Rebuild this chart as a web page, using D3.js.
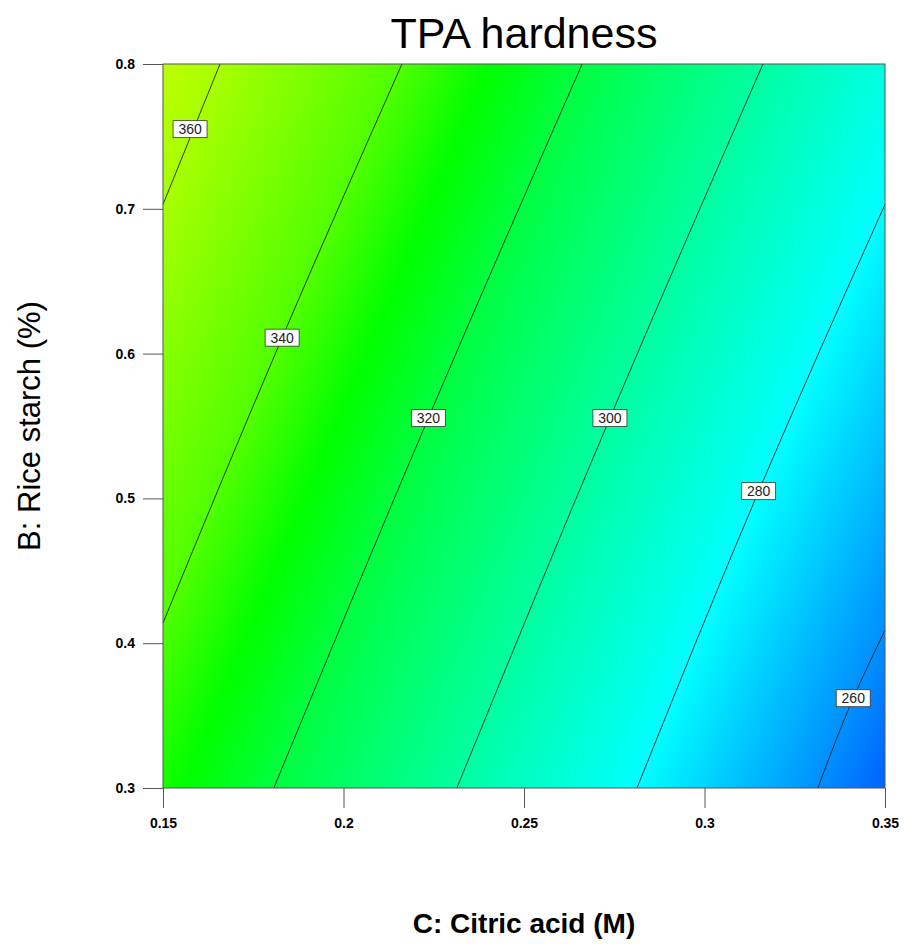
<!DOCTYPE html>
<html>
<head>
<meta charset="utf-8">
<script src="https://cdn.jsdelivr.net/npm/d3@7"></script>
<style>
  body { margin: 0; background: #fff; }
  svg text { font-family: Arial, "Liberation Sans", sans-serif; }
</style>
</head>
<body>
<div id="svg_div"><svg width="904" height="944"></svg></div>
<script>
// Grid of TPA hardness values
var xVals = [0.15, 0.20, 0.25, 0.30, 0.35];          // C: Citric acid (M)
var yVals = [0.3, 0.4, 0.5, 0.6, 0.7, 0.8];           // B: Rice starch (%)
var hardness = [                                      // rows = yVals, cols = xVals
    [332.3, 312.3, 292.3, 272.3, 252.3],
    [339.1, 319.1, 299.1, 279.1, 259.1],
    [345.9, 325.9, 305.9, 285.9, 265.9],
    [352.7, 332.7, 312.7, 292.7, 272.7],
    [359.5, 339.5, 319.5, 299.5, 279.5],
    [366.3, 346.3, 326.3, 306.3, 286.3]
];

// Contour lines [citric acid, rice starch]
var contourLevels = [360, 340, 320, 300, 280, 260];
var contourPaths = [
    [[0.15, 0.703], [0.1658, 0.8]],
    [[0.15, 0.414], [0.183, 0.611], [0.2162, 0.8]],
    [[0.1807, 0.3], [0.2235, 0.5555], [0.2661, 0.8]],
    [[0.2314, 0.3], [0.2738, 0.5555], [0.3162, 0.8]],
    [[0.2813, 0.3], [0.3150, 0.505], [0.35, 0.703]],
    [[0.3314, 0.3], [0.3412, 0.362], [0.35, 0.409]]
];
var labelPoints = [
    [0.1575, 0.755], [0.183, 0.611], [0.2235, 0.5555],
    [0.2738, 0.5555], [0.3150, 0.505], [0.3412, 0.362]
];

var xTicks = [0.15, 0.2, 0.25, 0.3, 0.35];
var yTicks = [0.3, 0.4, 0.5, 0.6, 0.7, 0.8];

var colorStops = [252, 260, 280, 300, 320, 330, 340, 360, 370];
var colorRange = ["#0060ff", "#0090ff", "#00ffff", "#00ffa0", "#00ff40",
                  "#00ff00", "#50ff00", "#a8ff00", "#c8ff00"];

var svg = d3.select("#svg_div").select("svg");
var margin = {top: 64, left: 163, bottom: 156, right: 19};
var width = +svg.attr("width") - margin.left - margin.right;
var height = +svg.attr("height") - margin.top - margin.bottom;

var xScale = d3.scaleLinear().domain([0.15, 0.35]).range([0, width]);
var yScale = d3.scaleLinear().domain([0.3, 0.8]).range([height, 0]);
var colorScale = d3.scaleLinear().domain(colorStops).range(colorRange).clamp(true);

var g = svg.append("g").attr("transform", "translate(" + [margin.left, margin.top] + ")");

// Fill raster: bilinear look-up in the read grid
function valueAt(cx, cy) {
    var fx = (cx - xVals[0]) / (xVals[1] - xVals[0]);
    var fy = (cy - yVals[0]) / (yVals[1] - yVals[0]);
    var i = Math.max(0, Math.min(xVals.length - 2, Math.floor(fx)));
    var j = Math.max(0, Math.min(yVals.length - 2, Math.floor(fy)));
    var tx = fx - i, ty = fy - j;
    var a = hardness[j][i], b = hardness[j][i + 1];
    var c = hardness[j + 1][i], d = hardness[j + 1][i + 1];
    return (a * (1 - tx) + b * tx) * (1 - ty) + (c * (1 - tx) + d * tx) * ty;
}

var canvas = document.createElement("canvas");
canvas.width = Math.round(width);
canvas.height = Math.round(height);
var ctx = canvas.getContext("2d");
var img = ctx.createImageData(canvas.width, canvas.height);
for (var py = 0; py < canvas.height; py++) {
    for (var px = 0; px < canvas.width; px++) {
        var col = d3.rgb(colorScale(valueAt(xScale.invert(px + 0.5), yScale.invert(py + 0.5))));
        var k = (py * canvas.width + px) * 4;
        img.data[k] = col.r; img.data[k + 1] = col.g; img.data[k + 2] = col.b; img.data[k + 3] = 255;
    }
}
ctx.putImageData(img, 0, 0);

g.append("image")
    .attr("x", 0).attr("y", 0)
    .attr("width", width).attr("height", height)
    .attr("preserveAspectRatio", "none")
    .attr("href", canvas.toDataURL());

// Contour lines
var line = d3.line()
    .x(function(d) { return xScale(d[0]); })
    .y(function(d) { return yScale(d[1]); })
    .curve(d3.curveMonotoneY);

g.selectAll(".contour")
    .data(contourPaths)
    .enter()
    .append("path")
    .attr("class", "contour")
    .attr("d", line)
    .attr("fill", "none")
    .attr("stroke", "#222")
    .attr("stroke-width", 0.9);

// Contour labels
var labels = g.selectAll(".clabel")
    .data(labelPoints)
    .enter()
    .append("g")
    .attr("class", "clabel")
    .attr("transform", function(d) { return "translate(" + [xScale(d[0]), yScale(d[1])] + ")"; });

labels.append("rect")
    .attr("x", -17).attr("y", -8.5)
    .attr("width", 34).attr("height", 17)
    .attr("fill", "#fff")
    .attr("stroke", "#333")
    .attr("stroke-width", 0.8);

labels.append("text")
    .attr("text-anchor", "middle")
    .attr("dy", "0.36em")
    .attr("font-size", 14)
    .attr("fill", "#222")
    .text(function(d, i) { return contourLevels[i]; });

// Frame
g.append("rect")
    .attr("width", width).attr("height", height)
    .attr("fill", "none")
    .attr("stroke", "#555")
    .attr("stroke-width", 1);

// Axes
var xAxis = d3.axisBottom(xScale).tickValues(xTicks).tickSize(20).tickPadding(10)
    .tickFormat(function(d) { return String(+d.toFixed(2)); });
var xAxisG = g.append("g").attr("transform", "translate(0," + height + ")").call(xAxis);

var yAxis = d3.axisLeft(yScale).tickValues(yTicks).tickSize(20).tickPadding(8)
    .tickFormat(function(d) { return String(+d.toFixed(1)); });
var yAxisG = g.append("g").call(yAxis);

[xAxisG, yAxisG].forEach(function(ax) {
    ax.select(".domain").remove();
    ax.selectAll(".tick line").attr("stroke", "#555");
    ax.selectAll(".tick text")
        .attr("font-size", 14)
        .attr("font-weight", "bold")
        .attr("font-family", "Arial, 'Liberation Sans', sans-serif")
        .attr("fill", "#000");
});

// Titles
svg.append("text")
    .attr("x", margin.left + width / 2)
    .attr("y", 48)
    .attr("text-anchor", "middle")
    .attr("font-size", 43)
    .text("TPA hardness");

svg.append("text")
    .attr("x", margin.left + width / 2)
    .attr("y", 933)
    .attr("text-anchor", "middle")
    .attr("font-size", 28)
    .attr("font-weight", "bold")
    .text("C: Citric acid (M)");

svg.append("text")
    .attr("transform", "translate(40," + (margin.top + height / 2) + ") rotate(-90)")
    .attr("text-anchor", "middle")
    .attr("font-size", 31)
    .text("B: Rice starch (%)");
</script>
</body>
</html>
